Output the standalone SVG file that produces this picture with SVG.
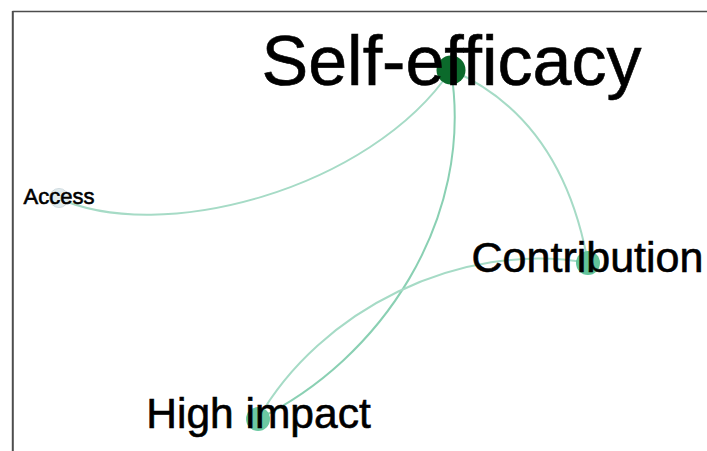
<svg xmlns="http://www.w3.org/2000/svg" width="707" height="451" viewBox="0 0 707 451">
  <style>
    .edge { fill: none; stroke: #a6dbc6; stroke-width: 2; stroke-linecap: round; }
    .edge.strong { stroke: #8ad0b3; }
    .label { font-family: "Liberation Sans", Arial, sans-serif; fill: #000; stroke: #000; stroke-width: 0.6; text-anchor: middle; }
    .frame { fill: none; stroke: #4d4d4d; }
  </style>
  <rect x="0" y="0" width="707" height="451" fill="#ffffff"/>

  <!-- frame: top and left rules only -->
  <path class="frame" d="M12.5 11.5 H707" stroke-width="1.5"/>
  <path class="frame" d="M12.8 11 V451" stroke-width="2" stroke="#606060"/>

  <!-- connectors -->
  <g id="edges">
    <path id="e-self-access" class="edge" d="M451 70 C370 190 160 245 58 198"/>
    <path id="e-self-contribution" class="edge" d="M451 70 Q562 118 588 263"/>
    <path id="e-self-highimpact" class="edge strong" d="M451 70 C475 220 380 360 258 419"/>
    <path id="e-contribution-highimpact" class="edge" d="M588 263 C460 240 320 310 258 419"/>
  </g>

  <!-- nodes -->
  <g id="node-access">
    <circle cx="59" cy="198" r="9.5" fill="#e2ecef" stroke="#cfdbe0" stroke-width="1"/>
    <text class="label" x="59" y="203.5" font-size="22" stroke-width="0.3">Access</text>
  </g>
  <g id="node-high-impact">
    <circle cx="258" cy="419" r="12" fill="#6cc9a2"/>
    <text class="label" x="258.5" y="428" font-size="42.5">High impact</text>
  </g>
  <g id="node-contribution">
    <circle cx="588" cy="263" r="12" fill="#62c49b"/>
    <text class="label" x="587.5" y="272" font-size="43">Contribution</text>
  </g>
  <g id="node-self-efficacy">
    <circle cx="451" cy="70" r="14.5" fill="#0b6a2b"/>
    <text class="label" x="451.5" y="84.5" font-size="70" stroke-width="0.9">Self-efficacy</text>
  </g>
</svg>
